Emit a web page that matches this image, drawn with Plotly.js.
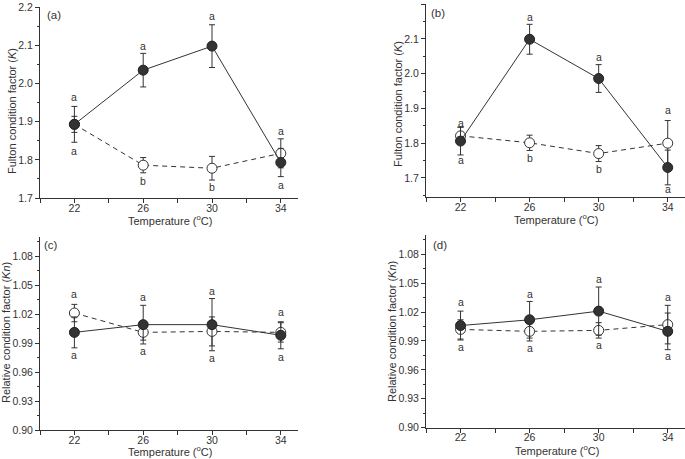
<!DOCTYPE html>
<html><head><meta charset="utf-8">
<script src="https://cdn.plot.ly/plotly-3.0.1.min.js"></script>
<style>html,body{margin:0;padding:0;background:#fff}#chart{width:685px;height:459px}</style>
</head><body><div id="chart"></div>
<script>
const temps = [22, 26, 30, 34];

// Panel (a) Fulton K
const aFilled = [1.893, 2.035, 2.098, 1.793];
const aFilledErr = [0.047, 0.044, 0.056, 0.037];
const aOpen = [1.893, 1.786, 1.778, 1.817];
const aOpenErr = [0.021, 0.020, 0.031, 0.038];
const aTopLetters = ['a', 'a', 'a', 'a'];
const aTopY = [1.964, 2.098, 2.176, 1.875];
const aBotLetters = ['a', 'b', 'b', 'a'];
const aBotY = [1.823, 1.745, 1.729, 1.734];

// Panel (b) Fulton K
const bFilled = [1.806, 2.099, 1.986, 1.730];
const bFilledErr = [0.040, 0.043, 0.040, 0.050];
const bOpen = [1.821, 1.801, 1.770, 1.800];
const bOpenErr = [0.025, 0.022, 0.023, 0.065];
const bTopLetters = ['a', 'a', 'a', 'a'];
const bTopY = [1.859, 2.163, 2.049, 1.895];
const bBotLetters = ['a', 'b', 'b', 'a'];
const bBotY = [1.752, 1.757, 1.726, 1.668];

// Panel (c) Relative Kn
const cFilled = [1.001, 1.009, 1.009, 0.998];
const cFilledErr = [0.016, 0.020, 0.027, 0.014];
const cOpen = [1.021, 1.001, 1.002, 1.001];
const cOpenErr = [0.009, 0.008, 0.015, 0.010];
const cTopLetters = ['a', 'a', 'a', 'a'];
const cTopY = [1.0407, 1.0379, 1.044, 1.0224];
const cBotLetters = ['a', 'a', 'a', 'a'];
const cBotY = [0.9776, 0.982, 0.974, 0.9757];

// Panel (d) Relative Kn
const dFilled = [1.006, 1.012, 1.021, 1.000];
const dFilledErr = [0.015, 0.019, 0.025, 0.019];
const dOpen = [1.002, 1.000, 1.001, 1.007];
const dOpenErr = [0.010, 0.010, 0.008, 0.020];
const dTopLetters = ['a', 'a', 'a', 'a'];
const dTopY = [1.0303, 1.0384, 1.0547, 1.036];
const dBotLetters = ['a', 'a', 'a', 'a'];
const dBotY = [0.9838, 0.9828, 0.9855, 0.974];

const panelLabels = ['(a)', '(b)', '(c)', '(d)'];
const xTitle = 'Temperature (<sup>o</sup>C)';
const kTitle = 'Fulton condition factor (<i>K</i>)';
const knTitle = 'Relative condition factor (<i>Kn</i>)';

const INK = '#333333';
const FONT = 'Liberation Sans, Arial, sans-serif';
const W = 685, H = 459;

function pair(suffix, labelSuffix, filled, fErr, open, oErr) {
  const xa = 'x' + suffix, ya = 'y' + suffix;
  return [
    {x: temps, y: open, xaxis: xa, yaxis: ya, type: 'scatter', mode: 'lines+markers',
     line: {color: INK, width: 1, dash: '5px,4px'},
     marker: {size: 10, color: '#ffffff', line: {color: INK, width: 1}},
     error_y: {type: 'data', array: oErr, visible: true, color: INK, thickness: 1, width: 3},
     showlegend: false, cliponaxis: false},
    {x: temps, y: filled, xaxis: xa, yaxis: ya, type: 'scatter', mode: 'lines+markers',
     line: {color: INK, width: 1},
     marker: {size: 10, color: '#333333', line: {color: '#222', width: 1}},
     error_y: {type: 'data', array: fErr, visible: true, color: INK, thickness: 1, width: 3},
     showlegend: false, cliponaxis: false},
    // carrier trace for the tick-label axis
    {x: temps, y: filled, xaxis: 'x' + labelSuffix, yaxis: ya, type: 'scatter', mode: 'none',
     showlegend: false, hoverinfo: 'skip'}
  ];
}

const data = [].concat(
  pair('', '5', aFilled, aFilledErr, aOpen, aOpenErr),
  pair('2', '6', bFilled, bFilledErr, bOpen, bOpenErr),
  pair('3', '7', cFilled, cFilledErr, cOpen, cOpenErr),
  pair('4', '8', dFilled, dFilledErr, dOpen, dOpenErr)
);

// axis drawing line + ticks
function xAxis(domain, anchor) {
  return {domain: domain, anchor: anchor, range: [20, 35], tickmode: 'linear', tick0: 22, dtick: 4,
    showline: true, linecolor: INK, linewidth: 1, ticks: 'outside', ticklen: 4, tickcolor: INK,
    minor: {tick0: 20, dtick: 2, ticks: 'outside', ticklen: 4, tickcolor: INK},
    showticklabels: false, showgrid: false, zeroline: false, automargin: false, fixedrange: true};
}
// overlay axis drawing only the tick labels
function xLabelAxis(domain, anchor, over) {
  return {domain: domain, anchor: anchor, overlaying: over, range: [20, 35], tickmode: 'linear',
    tick0: 22, dtick: 4, showline: false, ticks: '', showgrid: false, zeroline: false,
    ticklabelstandoff: 2,
    tickfont: {family: FONT, size: 10.5, color: INK}, automargin: false, fixedrange: true};
}
function yAxis(domain, anchor, range, tick0, dtick, minorDtick, fmt) {
  return {domain: domain, anchor: anchor, range: range, tickmode: 'linear', tick0: tick0, dtick: dtick,
    tickformat: fmt, showline: true, linecolor: INK, linewidth: 1, ticks: 'outside', ticklen: 4,
    tickcolor: INK, minor: {tick0: tick0, dtick: minorDtick, ticks: 'outside', ticklen: 2, tickcolor: INK},
    showgrid: false, zeroline: false, tickfont: {family: FONT, size: 10.5, color: INK},
    automargin: false, fixedrange: true};
}

const xL = [40 / W, 298 / W], xR = [426 / W, 1];
const yTop = [1 - 198 / H, 1 - 7 / H];
const yTopB = [1 - 197 / H, 1 - 4 / H];
const yBot = [1 - 430 / H, 1 - 236.7 / H];
const yBotD = [1 - 427.7 / H, 1 - 235 / H];

const annotations = [];
function letters(xref, yref, labs, ys) {
  labs.forEach((t, i) => annotations.push({x: temps[i], y: ys[i], xref: xref, yref: yref, text: t,
    showarrow: false, font: {family: FONT, size: 10.5, color: INK}}));
}
letters('x', 'y', aTopLetters, aTopY); letters('x', 'y', aBotLetters, aBotY);
letters('x2', 'y2', bTopLetters, bTopY); letters('x2', 'y2', bBotLetters, bBotY);
letters('x3', 'y3', cTopLetters, cTopY); letters('x3', 'y3', cBotLetters, cBotY);
letters('x4', 'y4', dTopLetters, dTopY); letters('x4', 'y4', dBotLetters, dBotY);

function paperText(t, px, py, angle, size) {
  annotations.push({x: px / W, y: 1 - py / H, xref: 'paper', yref: 'paper', text: t, showarrow: false,
    textangle: angle, xanchor: 'center', yanchor: 'middle', font: {family: FONT, size: size, color: INK}});
}
const labelPos = [[54, 15], [438, 13], [51, 245], [440, 245]];
panelLabels.forEach((t, i) => paperText(t, labelPos[i][0], labelPos[i][1], 0, 11.5));

// axis titles
paperText(xTitle, 170, 220, 0, 11);
paperText(xTitle, 556, 219, 0, 11);
paperText(xTitle, 170, 451, 0, 11);
paperText(xTitle, 557, 450, 0, 11);
paperText(kTitle, 12, 111, -90, 11);
paperText(kTitle, 398, 104, -90, 11);
paperText(knTitle, 6, 333, -90, 11);
paperText(knTitle, 392, 331, -90, 11);

const layout = {
  width: W, height: H, margin: {l: 0, r: 0, t: 0, b: 0},
  paper_bgcolor: '#ffffff', plot_bgcolor: '#ffffff', showlegend: false,
  xaxis: xAxis(xL, 'y'), yaxis: yAxis(yTop, 'x', [1.7, 2.2005], 1.7, 0.1, 0.05, '.1f'),
  xaxis2: xAxis(xR, 'y2'), yaxis2: yAxis(yTopB, 'x2', [1.645, 2.2005], 1.7, 0.1, 0.05, '.1f'),
  xaxis3: xAxis(xL, 'y3'), yaxis3: yAxis(yBot, 'x3', [0.9, 1.1], 0.9, 0.03, 0.015, '.2f'),
  xaxis4: xAxis(xR, 'y4'), yaxis4: yAxis(yBotD, 'x4', [0.9, 1.1], 0.9, 0.03, 0.015, '.2f'),
  xaxis5: xLabelAxis(xL, 'y', 'x'),
  xaxis6: xLabelAxis(xR, 'y2', 'x2'),
  xaxis7: xLabelAxis(xL, 'y3', 'x3'),
  xaxis8: xLabelAxis(xR, 'y4', 'x4'),
  annotations: annotations
};

Plotly.newPlot('chart', data, layout, {staticPlot: true, displayModeBar: false});
</script></body></html>
